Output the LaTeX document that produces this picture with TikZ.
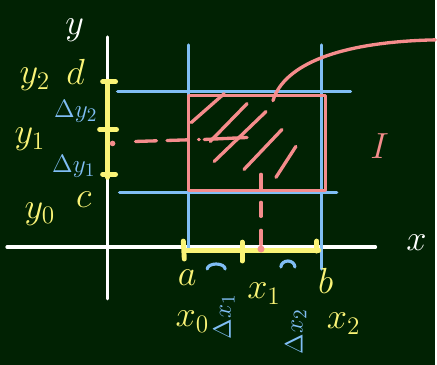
\documentclass[tikz,border=0pt]{standalone}
\usepackage{amsmath}
\definecolor{board}{RGB}{1,34,3}
\definecolor{chalkyellow}{RGB}{250,244,118}
\definecolor{chalkblue}{RGB}{128,190,245}
\definecolor{chalkpink}{RGB}{245,140,140}

\begin{document}
\begin{tikzpicture}[x=0.02cm, y=-0.02cm, line cap=round, line join=round,
    axisline/.style={white, line width=1.8pt},
    gridline/.style={chalkblue, line width=1.8pt},
    rectline/.style={chalkpink, line width=1.9pt},
    segline/.style={chalkyellow, line width=2.8pt},
    ylbl/.style={chalkyellow, font=\fontsize{21}{25}\selectfont},
    blbl/.style={chalkblue, font=\fontsize{15}{18}\selectfont},
    wlbl/.style={white, font=\fontsize{22}{26}\selectfont}]
    % board
    \fill[board] (0,0) rectangle (437,366);

    % axes
    \draw[axisline] (108,37) -- (108,300);
    \draw[axisline] (7,248) -- (377,248);
    \node[wlbl] (ylab) at (75,30) {$y$};
    \node[wlbl] (xlab) at (418,244) {$x$};

    % grid lines
    \draw[gridline] (189,45) -- (189,250);
    \draw[gridline] (323,45) -- (323,270);
    \draw[gridline] (118,92) -- (352,92);
    \draw[gridline] (120,193) -- (338,193);

    % rectangle I
    \draw[rectline] (189,96) rectangle (327,191);
    \draw[rectline] (274,101) .. controls (285,65) and (340,42) .. (437,40);
    \node[chalkpink, font=\fontsize{22}{26}\selectfont] (Ilab) at (381,147) {$I$};

    % hatching
    \foreach \a/\b in {{192,123}/{225,94}, {211,142}/{248,104}, {215,162}/{267,112},
                       {245,170}/{283,130}, {277,178}/{297,147}}
        \draw[rectline] (\a) -- (\b);
    \draw[rectline] (205,140) -- (248,138);

    % dashed projections
    \draw[rectline, dash pattern=on 12pt off 6pt] (136,142) -- (200,140);
    \draw[rectline, dash pattern=on 8pt off 8pt] (262,175) -- (262,250);

    % intervals on the axes
    \draw[segline] (108,82) -- (108,178);
    \draw[segline] (103,82) -- (116,82);
    \draw[segline] (100,130) -- (117,130);
    \draw[segline] (103,175) -- (116,175);
    \draw[segline] (186,251) -- (320,251);
    \draw[segline] (184,242) -- (185,260);
    \draw[segline] (243,243) -- (243,262);
    \draw[segline] (318,242) -- (318,252);
    \fill[chalkpink] (262,250) circle (2pt);
    \fill[chalkpink] (113,144) circle (1.6pt);

    % labels on y
    \node[ylbl] (y2) at (35,80) {$y_2$};
    \node[ylbl] (d) at (76,72) {$d$};
    \node[ylbl] (y1) at (30,140) {$y_1$};
    \node[ylbl] (c) at (84,200) {$c$};
    \node[ylbl] (y0) at (40,215) {$y_0$};
    \node[blbl] (dy2) at (76,112) {$\Delta y_2$};
    \node[blbl] (dy1) at (74,167) {$\Delta y_1$};

    % labels on x
    \node[ylbl] (a) at (188,279) {$a$};
    \node[ylbl] (x1) at (265,295) {$x_1$};
    \node[ylbl] (b) at (327,282) {$b$};
    \node[ylbl] (x0) at (193,323) {$x_0$};
    \node[ylbl] (x2) at (345,325) {$x_2$};
    \draw[gridline] (208,270) arc (180:360:9 and 5);
    \draw[gridline] (296,268) arc (0:-180:7 and 6);
    \node[blbl, rotate=90] (dx1) at (225,318) {$\Delta x_1$};
    \node[blbl, rotate=90] (dx2) at (297,333) {$\Delta x_2$};
\end{tikzpicture}
\end{document}
